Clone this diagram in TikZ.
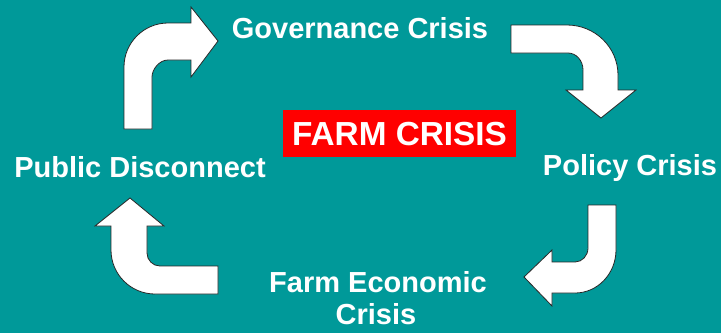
\documentclass[tikz,border=0pt]{standalone}
\usepackage{fontspec}
\setmainfont{Liberation Sans}
\definecolor{bgteal}{RGB}{0,153,153}
\tikzset{
  bentarrow/.style={fill=white, draw=black!85, line width=0.6pt, line join=miter},
  label/.style={text=white, font=\bfseries\fontsize{21.75pt}{24pt}\selectfont, inner sep=0pt, anchor=base},
  centerbox/.style={fill=red, text=white, font=\bfseries\fontsize{25pt}{28pt}\selectfont,
    minimum width=174.75pt, minimum height=35.25pt, inner sep=0pt, text height=17.9pt, text depth=0pt}
}
\begin{document}
\begin{tikzpicture}[x=0.75pt, y=-0.75pt]
\fill[bgteal] (0,0) rectangle (721,333);
\useasboundingbox (0,0) rectangle (721,333);

% arrows
\draw[bentarrow] (124,129) -- (124,67) .. controls (124,42.7) and (143.7,23) .. (168,23) -- (191,23) -- (191,7) -- (218,41) -- (191,77) -- (191,60) -- (168,60) .. controls (159.2,60) and (152,69.4) .. (152,77) -- (152,129) -- cycle;
\draw[bentarrow] (511,25) -- (567,25) .. controls (595.2,25) and (618,47.4) .. (618,75) -- (618,90) -- (636,90) -- (601,118) -- (566,90) -- (583,90) -- (583,70) .. controls (583,60.6) and (576.3,53) .. (568,53) -- (511,53) -- cycle;
\draw[bentarrow] (588,205) -- (616,205) -- (616,250) .. controls (616,273.7) and (597.6,293) .. (575,293) -- (552,293) -- (552,306) -- (524,277) -- (552,250) -- (552,262) -- (575,262) .. controls (582.2,262) and (588,255.7) .. (588,248) -- cycle;
\draw[bentarrow] (218,266) -- (218,294) -- (155,294) .. controls (130.7,294) and (111,274.3) .. (111,250) -- (111,226) -- (95,226) -- (130,198) -- (164,226) -- (147,226) -- (147,253) .. controls (147,260.2) and (152.8,266) .. (160,266) -- cycle;

% labels
\node[label] (gov) at (360,38) {Governance Crisis};
\node[label] (pol) at (630,175) {Policy Crisis};
\node[label] (farm1) at (378,292) {Farm Economic};
\node[label] (farm2) at (376,324) {Crisis};
\node[label] (pub) at (140,177) {Public Disconnect};
\node[centerbox] (center) at (399.5,133.5) {FARM CRISIS};
\end{tikzpicture}
\end{document}
